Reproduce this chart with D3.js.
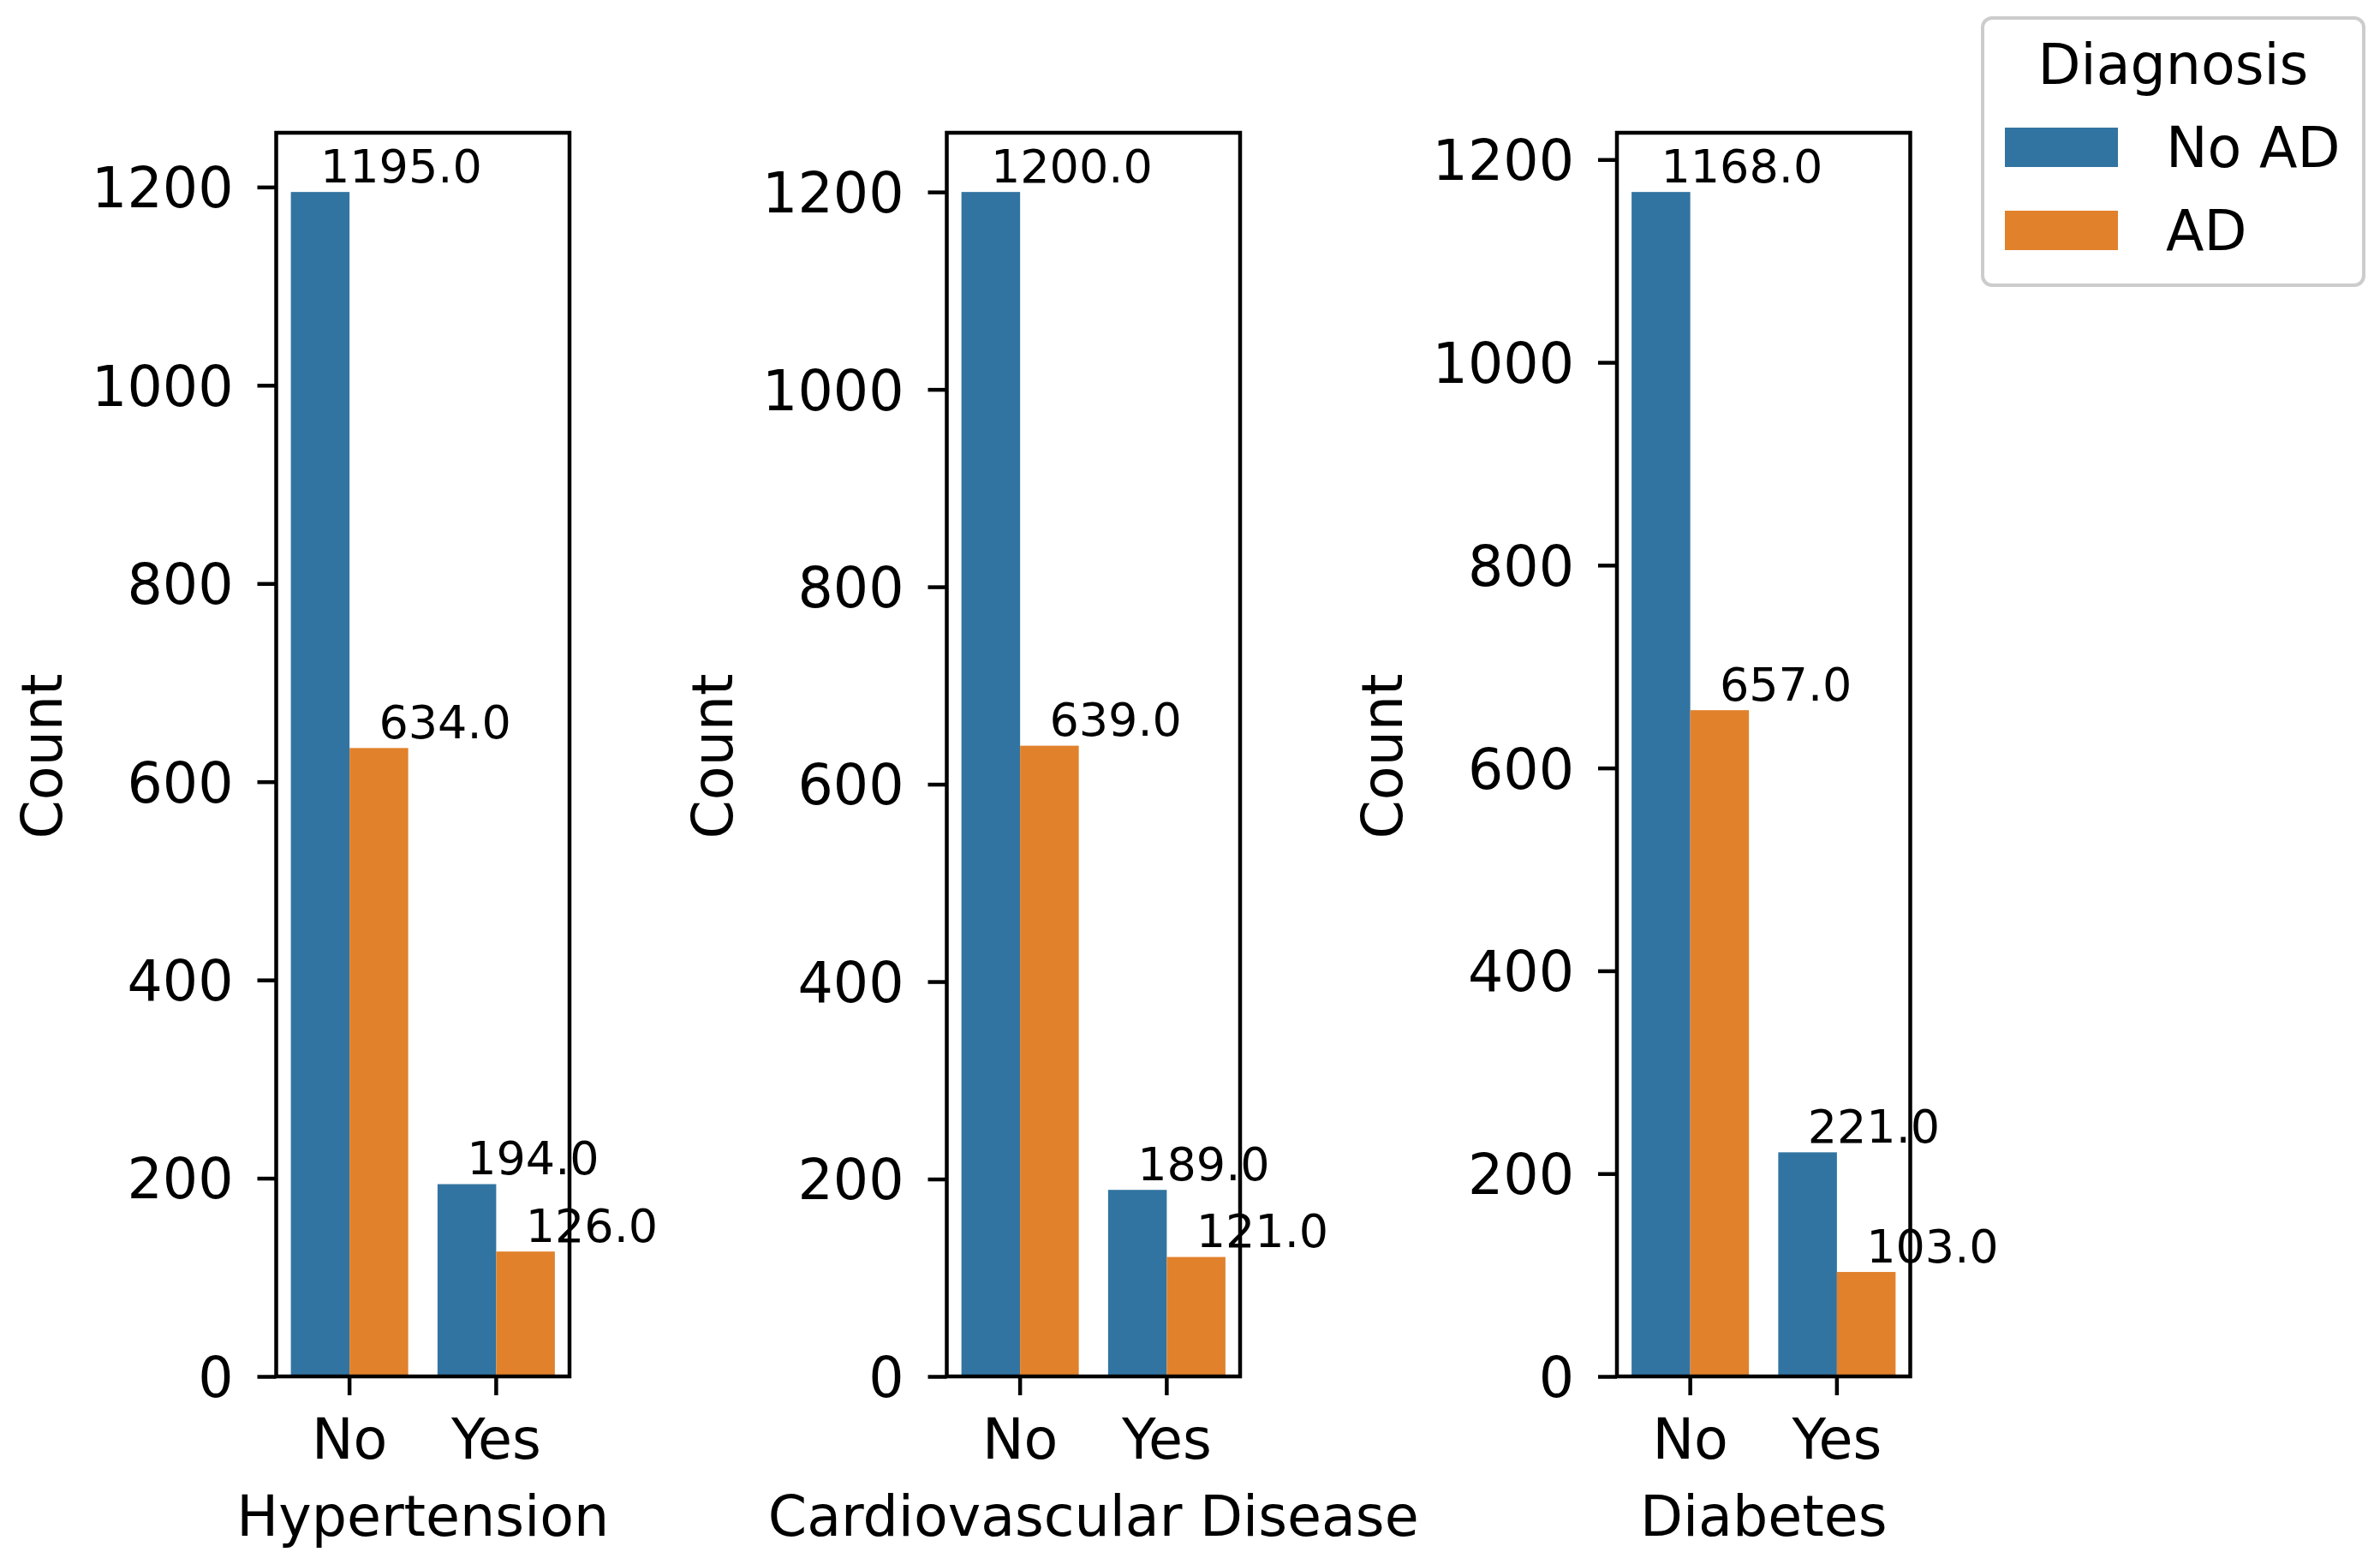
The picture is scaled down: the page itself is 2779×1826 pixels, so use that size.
<!DOCTYPE html>
<html>
<head>
<meta charset="utf-8">
<script src="https://cdn.jsdelivr.net/npm/d3@7"></script>
<style>
  html, body { margin: 0; padding: 0; background: #fff; }
  text { font-family: "DejaVu Sans", sans-serif; fill: #000; }
</style>
</head>
<body>
<script>
// data
var panels = ['Hypertension', 'Cardiovascular Disease', 'Diabetes'];
var categories = ['No', 'Yes'];
var series = ['No AD', 'AD'];
var noAD = [[1195, 194], [1200, 189], [1168, 221]];
var withAD = [[634, 126], [639, 121], [657, 103]];
var yTicks = [0, 200, 400, 600, 800, 1000, 1200];
var colors = ['#3274a1', '#e1812c'];

var W = 2779, H = 1826;
var axLefts = [322.5, 1105.5, 1888],
    axW = 342.5,
    axTop = 155,
    axBottom = 1607,
    spineW = 4.5,
    tickLen = 22,
    fontBig = 65,
    fontSmall = 54;

var svg = d3.select('body').append('svg')
    .attr('width', W).attr('height', H)
    .attr('viewBox', '0 0 ' + W + ' ' + H);

panels.forEach(function(name, i){
    var left = axLefts[i];
    var vals = [noAD[i], withAD[i]];
    var ymax = d3.max([].concat(noAD[i], withAD[i])) * 1.05;

    var x = d3.scaleBand().domain(categories)
        .range([left, left + axW])
        .paddingInner(0.2).paddingOuter(0.1);
    var xs = d3.scaleBand().domain(series).range([0, x.bandwidth()]);
    var y = d3.scaleLinear().domain([0, ymax]).range([axBottom, axTop]);

    var g = svg.append('g');

    // bars
    var rows = [];
    categories.forEach(function(c, ci){
        series.forEach(function(s, si){
            rows.push({cat: c, ser: s, si: si, v: vals[si][ci]});
        });
    });

    g.selectAll('.bar').data(rows).enter().append('rect')
        .attr('class', 'bar')
        .attr('x', function(d){ return x(d.cat) + xs(d.ser); })
        .attr('width', xs.bandwidth())
        .attr('y', function(d){ return y(d.v); })
        .attr('height', function(d){ return y(0) - y(d.v); })
        .attr('fill', function(d){ return colors[d.si]; });

    // frame
    g.append('rect')
        .attr('x', left).attr('y', axTop)
        .attr('width', axW).attr('height', axBottom - axTop)
        .attr('fill', 'none').attr('stroke', '#000')
        .attr('stroke-width', spineW);

    // y axis
    var ya = g.append('g')
        .attr('transform', 'translate(' + left + ',0)')
        .call(d3.axisLeft(y).tickValues(yTicks).tickFormat(d3.format('d'))
            .tickSize(tickLen).tickPadding(28));
    ya.select('.domain').remove();
    ya.selectAll('.tick line').attr('stroke-width', spineW);
    ya.selectAll('.tick text')
        .style('font-size', fontBig + 'px').style('font-family', '"DejaVu Sans"')
        .attr('dy', '0.36em');

    // x axis
    var xa = g.append('g')
        .attr('transform', 'translate(0,' + axBottom + ')')
        .call(d3.axisBottom(x).tickSize(tickLen).tickPadding(0));
    xa.select('.domain').remove();
    xa.selectAll('.tick line').attr('stroke-width', spineW);
    xa.selectAll('.tick text')
        .style('font-size', fontBig + 'px').style('font-family', '"DejaVu Sans"')
        .attr('y', 96).attr('dy', 0);

    // axis labels
    g.append('text')
        .attr('x', left + axW / 2).attr('y', axBottom + 186)
        .attr('text-anchor', 'middle')
        .style('font-size', fontBig + 'px')
        .text(name);

    g.append('text')
        .attr('transform', 'translate(' + (left - 251) + ',' + ((axTop + axBottom) / 2 + 2) + ') rotate(-90)')
        .attr('text-anchor', 'middle')
        .style('font-size', fontBig + 'px')
        .text('Count');

    // value labels
    g.selectAll('.lbl').data(rows).enter().append('text')
        .attr('class', 'lbl')
        .attr('x', function(d){ return x(d.cat) + xs(d.ser) + xs.bandwidth() / 2; })
        .attr('y', function(d){ return y(d.v) - 11.5; })
        .style('font-size', fontSmall + 'px')
        .text(function(d){ return d.v.toFixed(1); });
});

// legend
var lg = svg.append('g');
lg.append('rect')
    .attr('x', 2315).attr('y', 21)
    .attr('width', 445).attr('height', 312)
    .attr('rx', 11).attr('ry', 11)
    .attr('fill', '#fff').attr('stroke', '#cccccc').attr('stroke-width', 4);
lg.append('text')
    .attr('x', 2537.5).attr('y', 98)
    .attr('text-anchor', 'middle')
    .style('font-size', fontBig + 'px')
    .text('Diagnosis');
series.forEach(function(s, i){
    lg.append('rect')
        .attr('x', 2341).attr('y', 149 + i * 97)
        .attr('width', 132).attr('height', 46)
        .attr('fill', colors[i]);
    lg.append('text')
        .attr('x', 2529).attr('y', 195 + i * 97)
        .style('font-size', fontBig + 'px')
        .text(s);
});
</script>
</body>
</html>
